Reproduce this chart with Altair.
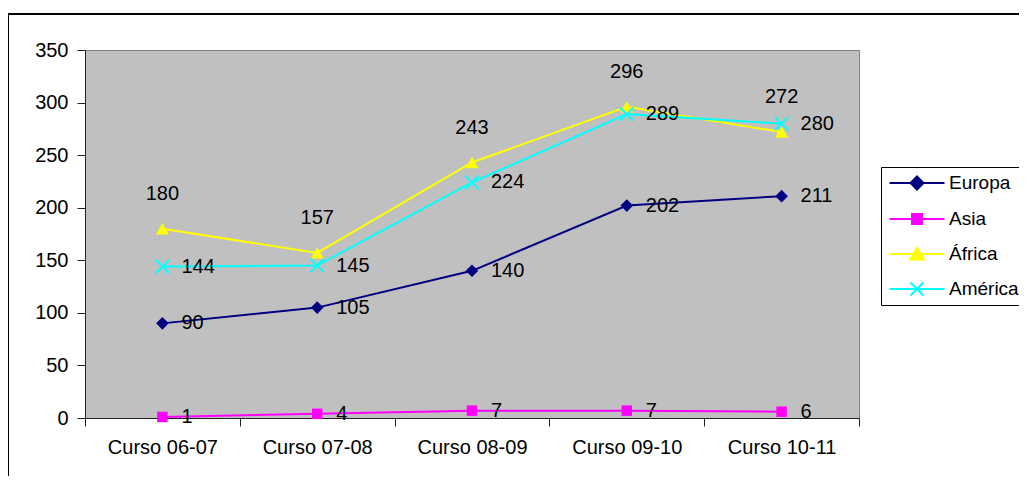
import altair as alt
import pandas as pd

cursos = ["Curso 06-07", "Curso 07-08", "Curso 08-09", "Curso 09-10", "Curso 10-11"]
series = ["Europa", "Asia", "África", "América"]
europa = [90, 105, 140, 202, 211]
asia = [1, 4, 7, 7, 6]
africa = [180, 157, 243, 296, 272]
america = [144, 145, 224, 289, 280]
colors = ["#000080", "#FF00FF", "#FFFF00", "#00FFFF"]
y_ticks = [0, 50, 100, 150, 200, 250, 300, 350]

values = {"Europa": europa, "Asia": asia, "África": africa, "América": america}
rows = []
for s in series:
    for c, v in zip(cursos, values[s]):
        rows.append({"curso": c, "serie": s, "valor": v})
df = pd.DataFrame(rows)

FONT = "Liberation Sans"
FS = 20

# marker shapes (chart) and legend symbols (line + marker)
X_PATH = "M-1,-1L1,1M-1,1L1,-1"
marker_shapes = {"Europa": ("diamond", True, 160),
                 "Asia": ("square", True, 110),
                 "África": ("triangle-up", True, 170),
                 "América": (X_PATH, False, 180)}
legend_paths = [
    "M-2.75,0H2.75M0,-0.65L0.65,0L0,0.65L-0.65,0Z",
    "M-2.75,0H2.75M-0.5,-0.5H0.5V0.5H-0.5Z",
    "M-2.75,0H2.75M0,-0.6L0.68,0.55H-0.68Z",
    "M-2.75,0H2.75M-0.65,-0.65L0.65,0.65M-0.65,0.65L0.65,-0.65",
]

x_enc = alt.X("curso:N", sort=cursos,
              scale=alt.Scale(type="band", domain=cursos, paddingInner=0, paddingOuter=0),
              axis=alt.Axis(title=None, labelAngle=0, tickBand="extent", tickSize=8,
                            labelPadding=11, grid=False))
y_enc = alt.Y("valor:Q",
              scale=alt.Scale(domain=[0, 350], nice=False, zero=True),
              axis=alt.Axis(title=None, values=y_ticks, tickSize=8, labelPadding=9,
                            grid=False))

base = alt.Chart(df)

# outer chart frame (decorative)
frame = base.mark_rect(fillOpacity=0, stroke="black", strokeWidth=2).encode(
    x=alt.value(-77), x2=alt.value(1200), y=alt.value(-36), y2=alt.value(700)
).transform_filter("datum.serie == 'Europa' && datum.curso == 'Curso 06-07'")

layers = [frame]
for s, col in zip(series, colors):
    sub = base.transform_filter(alt.datum.serie == s)
    layers.append(sub.mark_line(color=col, strokeWidth=2).encode(x=x_enc, y=y_enc))
    shp, filled, size = marker_shapes[s]
    if filled:
        pt = sub.mark_point(shape=shp, filled=True, size=size, opacity=1, color=col)
    else:
        pt = sub.mark_point(shape=shp, filled=False, size=size, opacity=1, color=col,
                            strokeWidth=2)
    layers.append(pt.encode(x=x_enc, y=y_enc))

for s in series:
    sub = base.transform_filter(alt.datum.serie == s)
    if s == "África":
        t = sub.mark_text(align="center", baseline="middle", dy=-35, font=FONT,
                          fontSize=FS, color="black")
    else:
        t = sub.mark_text(align="left", baseline="middle", dx=19, font=FONT,
                          fontSize=FS, color="black")
    layers.append(t.encode(x=x_enc, y=y_enc, text=alt.Text("valor:Q")))

leg = alt.Legend(title=None, orient="none", legendX=796, legendY=117,
                 labelFont=FONT, labelFontSize=19, labelColor="black",
                 strokeColor="black", fillColor="white", padding=5,
                 rowPadding=14, symbolSize=400, symbolStrokeWidth=2,
                 symbolOffset=20, labelOffset=21, symbolType="circle")
legend_layer = base.transform_filter("false").mark_point(
    filled=True, size=400, opacity=1, strokeWidth=2
).encode(
    x=x_enc, y=y_enc,
    shape=alt.Shape("serie:N", scale=alt.Scale(domain=series, range=legend_paths), legend=leg),
    fill=alt.Fill("serie:N", scale=alt.Scale(domain=series, range=colors), legend=leg),
    stroke=alt.Stroke("serie:N", scale=alt.Scale(domain=series, range=colors), legend=leg),
)
layers.append(legend_layer)

chart = alt.layer(*layers).properties(
    width=774, height=368,
    autosize=alt.AutoSizeParams(type="none"),
    padding={"left": 77, "top": 42, "right": 160, "bottom": 58},
).configure_view(
    fill="#C0C0C0", stroke="#808080", strokeWidth=1
).configure_axis(
    labelFont=FONT, labelFontSize=FS, labelColor="black",
    domainColor="#222222", tickColor="#222222", domainWidth=1, tickWidth=1
)

chart.save("out.html", embed_options={"renderer": "svg", "actions": False})
